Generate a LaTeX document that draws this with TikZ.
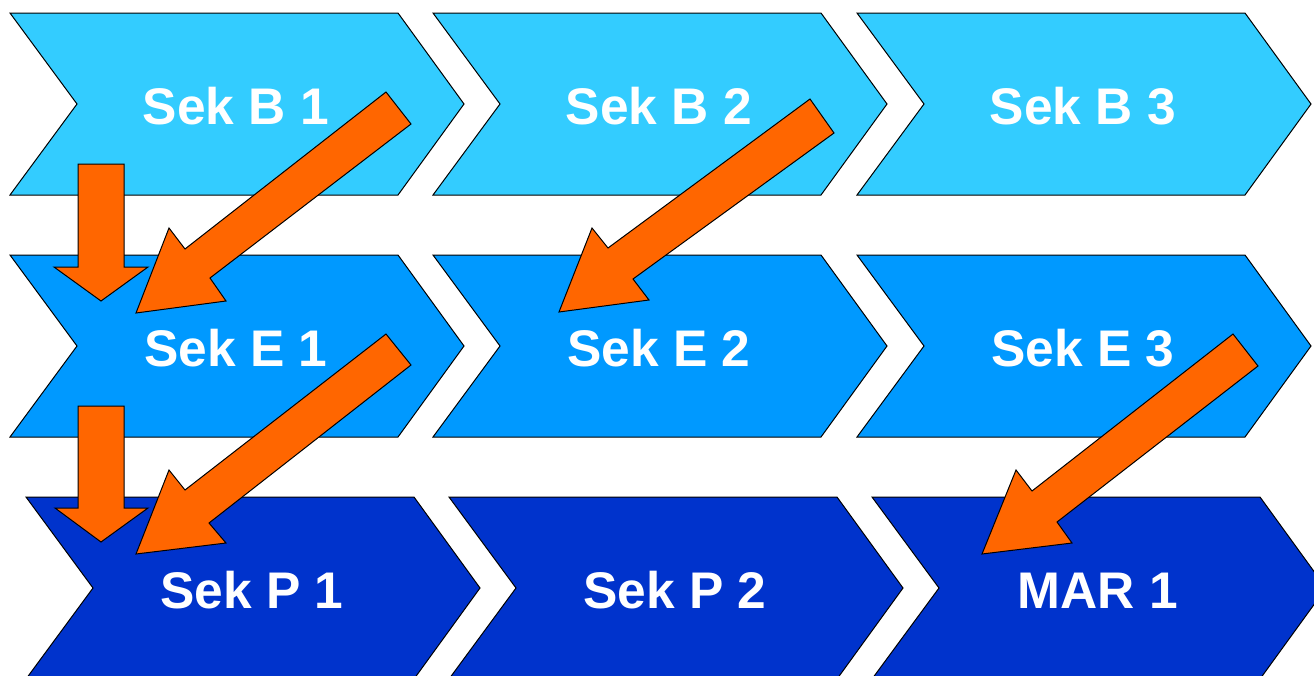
\documentclass[tikz,border=0pt]{standalone}
\usepackage{fontspec}
\setmainfont{Liberation Sans}
\definecolor{rowB}{HTML}{33CCFF}
\definecolor{rowE}{HTML}{0099FF}
\definecolor{rowP}{HTML}{0033CC}
\definecolor{arrorange}{HTML}{FF6600}
\tikzset{
  chev/.style={draw=black, line width=1pt, line join=miter},
  lbl/.style={text=white, font=\fontsize{51.5}{60}\selectfont\bfseries, anchor=base, inner sep=0pt},
  blockarrow/.style={draw=black, fill=arrorange, line width=1pt, line join=miter},
}
\newcommand\mychevron[5]{%
  \draw[chev, fill=#4] (#2,#3) -- ++(388,0) -- ++(66,91) -- ++(-66,91) -- ++(-388,0) -- ++(67,-91) -- cycle;
  \node[lbl] (#1) at (#2+226,#3+111) {#5};
}
\begin{document}
\begin{tikzpicture}[x=1pt,y=-1pt]
\useasboundingbox (0,0) rectangle (1314,675);
\clip (0,0) rectangle (1314,675);
% row 1
\mychevron{b1}{10}{13}{rowB}{Sek B 1}
\mychevron{b2}{433}{13}{rowB}{Sek B 2}
\mychevron{b3}{857}{13}{rowB}{Sek B 3}
% row 2
\mychevron{e1}{10}{255}{rowE}{Sek E 1}
\mychevron{e2}{433}{255}{rowE}{Sek E 2}
\mychevron{e3}{857}{255}{rowE}{Sek E 3}
% row 3
\mychevron{p1}{26}{497}{rowP}{Sek P 1}
\mychevron{p2}{449}{497}{rowP}{Sek P 2}
\mychevron{m1}{872}{497}{rowP}{MAR 1}
% down arrows
\draw[blockarrow] (78,164) -- (124,164) -- (124,267) -- (148,267) -- (101,301) -- (54,267) -- (78,267) -- cycle;
\draw[blockarrow] (78,406) -- (124,406) -- (124,508) -- (148,508) -- (101,542) -- (55,508) -- (78,508) -- cycle;
% diagonal arrows
\draw[blockarrow] (386,92) -- (185,249) -- (169,228) -- (136,313) -- (226,301) -- (210,278) -- (411,124) -- cycle;
\draw[blockarrow] (810,99) -- (608,248) -- (592,228) -- (559,312) -- (649,300) -- (633,279) -- (834,133) -- cycle;
\draw[blockarrow] (386,334) -- (185,490) -- (169,470) -- (136,554) -- (226,543) -- (209,523) -- (411,365) -- cycle;
\draw[blockarrow] (1233,334) -- (1032,491) -- (1016,470) -- (982,554) -- (1072,543) -- (1057,522) -- (1258,366) -- cycle;
\end{tikzpicture}
\end{document}
